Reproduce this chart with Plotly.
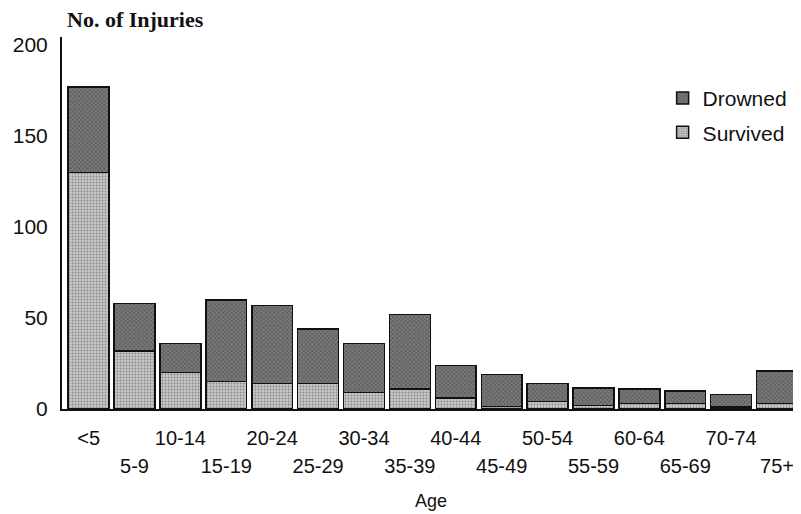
import plotly.graph_objects as go

ages = ["<5", "5-9", "10-14", "15-19", "20-24", "25-29", "30-34", "35-39",
        "40-44", "45-49", "50-54", "55-59", "60-64", "65-69", "70-74", "75+"]
survived = [130, 32, 20, 15, 14, 14, 9, 11, 6, 1.5, 4, 2, 3, 3, 1, 3]
drowned = [47, 26, 16, 45, 43, 30, 27, 41, 18, 17.5, 10, 9.5, 8, 7, 7, 18]
y_ticks = [0, 50, 100, 150, 200]

FONT = "Liberation Sans, Arial, sans-serif"

fig = go.Figure()
fig.add_trace(go.Bar(
    x=ages, y=survived, name="Survived", legendrank=2, legendgroup="s",
    marker=dict(color="#c8c8c8", line=dict(color="#111", width=1.5),
                pattern=dict(shape=".", fgcolor="#444", size=3, solidity=0.3)),
))
fig.add_trace(go.Bar(
    x=ages, y=drowned, name="Drowned", legendrank=1, legendgroup="d",
    marker=dict(color="#7a7a7a", line=dict(color="#111", width=1.5),
                pattern=dict(shape="x", fgcolor="#222", size=3, solidity=0.35)),
))
# helper trace to carry the second row of category labels
fig.add_trace(go.Scatter(
    x=ages, y=[0] * len(ages), xaxis="x2", mode="markers",
    marker=dict(opacity=0), showlegend=False, hoverinfo="skip",
))

row1 = [a if i % 2 == 0 else "" for i, a in enumerate(ages)]
row2 = [a if i % 2 == 1 else "" for i, a in enumerate(ages)]

fig.update_layout(
    width=793, height=506,
    margin=dict(l=54, r=1, t=29, b=105),
    paper_bgcolor="white", plot_bgcolor="white",
    barmode="stack", bargap=0.11,
    font=dict(family=FONT, size=20, color="#111"),
    showlegend=True,
    legend=dict(x=0.99, y=0.89, xanchor="right", yanchor="top",
                traceorder="grouped", tracegroupgap=4,
                font=dict(size=21, family=FONT), bgcolor="rgba(0,0,0,0)"),
    xaxis=dict(type="category", categoryarray=ages, tickvals=ages, ticktext=row1,
               showline=True, linecolor="#111", linewidth=2, ticks="",
               ticklabelstandoff=10, showgrid=False, zeroline=False,
               range=[-0.58, 15.5]),
    xaxis2=dict(type="category", categoryarray=ages, tickvals=ages, ticktext=row2,
                overlaying="x", side="bottom", anchor="y", matches="x",
                showline=False, ticks="", ticklabelstandoff=43, showgrid=False,
                zeroline=False,
                title=dict(text="Age", standoff=18, font=dict(size=18, family=FONT))),
    yaxis=dict(range=[0, 204.4], tickvals=y_ticks, showline=True, linecolor="#111",
               linewidth=2, ticks="", ticklabelstandoff=8, showgrid=False,
               zeroline=False, tickfont=dict(size=21, family=FONT)),
    annotations=[dict(text="<b>No. of Injuries</b>", x=0.004, y=1.046, xref="paper",
                      yref="paper", xanchor="left", yanchor="middle", showarrow=False,
                      font=dict(family="Liberation Serif, Times New Roman, serif",
                                size=22, color="#111"))],
)

fig.write_html("out.html")
